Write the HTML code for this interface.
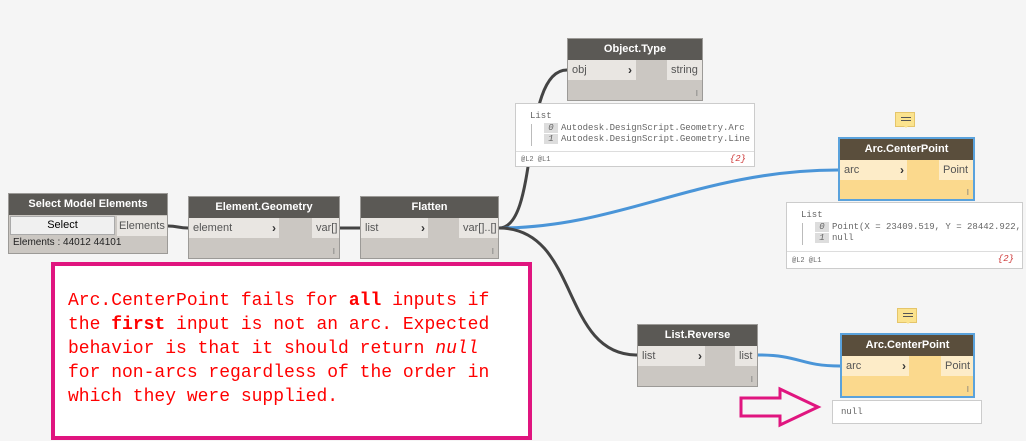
<!DOCTYPE html>
<html><head><meta charset="utf-8"><style>
body{margin:0;width:1026px;height:441px;background:#f5f5f5;position:relative;overflow:hidden;font-family:"Liberation Sans",sans-serif;}
.n{position:absolute;background:#cbc7c2;border:1px solid #9c9a97;box-sizing:border-box;}
.h{background:#5b5955;color:#fff;font-weight:bold;font-size:11px;text-align:center;height:21px;line-height:21px;}
.r{position:absolute;font-size:11px;color:#555;line-height:20px;height:20px;background:#e9e6e2;box-sizing:border-box;padding-left:4px;}
.ar{position:absolute;font-size:12px;font-weight:bold;color:#333;}
.y{background:#fbd98d;border:2px solid #5aa2dc;}
.y .h{background:#5a4e3c;}
.y .r{background:#fdecc8;}
.w{position:absolute;background:#fff;border:1px solid #ccc;box-sizing:border-box;font-family:"Liberation Mono",monospace;font-size:9px;color:#666;}
.idx{display:inline-block;background:#ddd;width:14px;text-align:center;margin-right:3px;font-style:italic;}
.note{position:absolute;width:20px;height:15px;background:#fbe38e;border:1px solid #e5c56a;box-sizing:border-box;}
.note:after{content:"";position:absolute;left:6px;bottom:-6px;border:4px solid transparent;border-top:4px solid #fbe38e;}
.note i{position:absolute;left:5px;height:1px;background:#555;}
</style></head><body>
<svg width="1026" height="441" style="position:absolute;left:0;top:0">
<g fill="none" stroke-width="3">
<path d="M168 226 C178 226,178 228,188 228" stroke="#444"/>
<path d="M340 228 L360 228" stroke="#444"/>
<path d="M499 228 C540 228,520 70,567 70" stroke="#444"/>
<path d="M499 228 C620 228,700 170,838 170" stroke="#4a95d8"/>
<path d="M499 228 C580 228,560 355,637 355" stroke="#444"/>
<path d="M758 355 C800 355,800 366,840 366" stroke="#4a95d8"/>
</g>
<path d="M741 398 L780 398 L780 389 L818 407 L780 425 L780 416 L741 416 Z" fill="none" stroke="#e0157f" stroke-width="3"/>
</svg>

<div class="n" style="left:8px;top:193px;width:160px;height:61px">
<div class="h">Select Model Elements</div>
<div style="position:absolute;left:1px;top:22px;width:105px;height:19px;background:#f0f0f0;border:1px solid #aaa;box-sizing:border-box;font-size:11px;text-align:center;line-height:17px">Select</div>
<div class="r" style="left:108px;top:22px;width:50px;padding-left:2px">Elements</div>
<div style="position:absolute;left:4px;top:43px;font-size:10px;color:#222">Elements : 44012 44101</div>
</div>

<div class="n" style="left:188px;top:196px;width:152px;height:63px">
<div class="h">Element.Geometry</div>
<div class="r" style="left:0;top:21px;width:90px">element</div><div class="ar" style="left:83px;top:24px">›</div>
<div class="r" style="left:123px;top:21px;width:27px">var[]</div>
<div style="position:absolute;right:4px;bottom:2px;font-size:8px;color:#777">I</div>
</div>

<div class="n" style="left:360px;top:196px;width:139px;height:63px">
<div class="h">Flatten</div>
<div class="r" style="left:0;top:21px;width:67px">list</div><div class="ar" style="left:60px;top:24px">›</div>
<div class="r" style="left:98px;top:21px;width:39px">var[]..[]</div>
<div style="position:absolute;right:4px;bottom:2px;font-size:8px;color:#777">I</div>
</div>

<div class="n" style="left:567px;top:38px;width:136px;height:63px">
<div class="h">Object.Type</div>
<div class="r" style="left:0;top:21px;width:68px">obj</div><div class="ar" style="left:60px;top:24px">›</div>
<div class="r" style="left:99px;top:21px;width:35px">string</div>
<div style="position:absolute;right:4px;bottom:2px;font-size:8px;color:#777">I</div>
</div>

<div class="w" style="left:515px;top:103px;width:240px;height:64px">
<div style="position:absolute;left:14px;top:7px">List</div>
<div style="position:absolute;left:28px;top:19px"><span class="idx">0</span>Autodesk.DesignScript.Geometry.Arc</div>
<div style="position:absolute;left:28px;top:30px"><span class="idx">1</span>Autodesk.DesignScript.Geometry.Line</div>
<div style="position:absolute;left:15px;top:20px;width:1px;height:22px;background:#bbb"></div>
<div style="position:absolute;left:0;right:0;top:47px;border-top:1px solid #ddd"></div>
<div style="position:absolute;left:5px;top:52px;font-size:7px">@L2 @L1</div>
<div style="position:absolute;right:8px;top:50px;color:#c33;font-style:italic">{2}</div>
</div>

<div class="note" style="left:895px;top:112px"><i style="top:4px;width:10px"></i><i style="top:7px;width:10px"></i></div>
<div class="n y" style="left:838px;top:137px;width:137px;height:64px">
<div class="h">Arc.CenterPoint</div>
<div class="r" style="left:0;top:21px;width:67px">arc</div><div class="ar" style="left:60px;top:24px">›</div>
<div class="r" style="left:99px;top:21px;width:34px">Point</div>
<div style="position:absolute;right:4px;bottom:2px;font-size:8px;color:#777">I</div>
</div>

<div class="w" style="left:786px;top:202px;width:237px;height:67px">
<div style="position:absolute;left:14px;top:7px">List</div>
<div style="position:absolute;left:28px;top:19px;white-space:nowrap"><span class="idx">0</span>Point(X = 23409.519, Y = 28442.922, Z</div>
<div style="position:absolute;left:28px;top:30px"><span class="idx">1</span>null</div>
<div style="position:absolute;left:15px;top:20px;width:1px;height:22px;background:#bbb"></div>
<div style="position:absolute;left:0;right:0;top:48px;border-top:1px solid #ddd"></div>
<div style="position:absolute;left:5px;top:54px;font-size:7px">@L2 @L1</div>
<div style="position:absolute;right:8px;top:51px;color:#c33;font-style:italic">{2}</div>
</div>

<div class="n" style="left:637px;top:324px;width:121px;height:63px">
<div class="h">List.Reverse</div>
<div class="r" style="left:0;top:21px;width:67px">list</div><div class="ar" style="left:60px;top:24px">›</div>
<div class="r" style="left:97px;top:21px;width:22px">list</div>
<div style="position:absolute;right:4px;bottom:2px;font-size:8px;color:#777">I</div>
</div>

<div class="note" style="left:897px;top:308px"><i style="top:4px;width:10px"></i><i style="top:7px;width:10px"></i></div>
<div class="n y" style="left:840px;top:333px;width:135px;height:65px">
<div class="h">Arc.CenterPoint</div>
<div class="r" style="left:0;top:21px;width:67px">arc</div><div class="ar" style="left:60px;top:24px">›</div>
<div class="r" style="left:99px;top:21px;width:32px">Point</div>
<div style="position:absolute;right:4px;bottom:2px;font-size:8px;color:#777">I</div>
</div>

<div class="w" style="left:832px;top:400px;width:150px;height:24px;padding:6px 0 0 8px">null</div>

<div style="position:absolute;left:51px;top:262px;width:481px;height:178px;border:4px solid #e0157f;box-sizing:border-box;background:#fff"></div>
<div style="position:absolute;left:68px;top:289px;font-family:'Liberation Mono',monospace;font-size:18px;line-height:24px;color:#f00;white-space:pre">Arc.CenterPoint fails for <b>all</b> inputs if
the <b>first</b> input is not an arc. Expected
behavior is that it should return <i>null</i>
for non-arcs regardless of the order in
which they were supplied.</div>
</body></html>
